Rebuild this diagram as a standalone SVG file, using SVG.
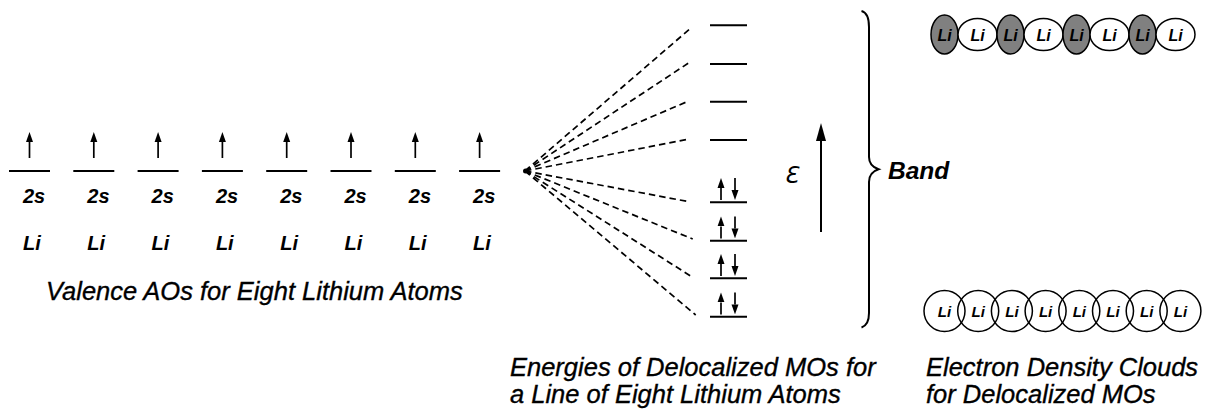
<svg xmlns="http://www.w3.org/2000/svg" width="1210" height="411" viewBox="0 0 1210 411">
<defs>
<style>
.lvl{stroke:#000;stroke-width:2;fill:none}
.spin{stroke:#000;stroke-width:1.7;fill:none}
.dash{stroke:#000;stroke-width:1.7;fill:none;stroke-dasharray:6.5 4}
.lbl{font-family:"Liberation Sans",Arial,sans-serif;font-style:italic;font-weight:bold;fill:#000}
.cap{font-family:"Liberation Sans",Arial,sans-serif;font-style:italic;font-size:25.5px;fill:#000;stroke:#000;stroke-width:0.35}
.li{font-family:"Liberation Sans",Arial,sans-serif;font-style:italic;font-weight:bold;fill:#000;text-anchor:middle}
.lobe{stroke:#000;stroke-width:1.5;fill:#fff}
.lobeG{stroke:#000;stroke-width:1.5;fill:#808080}
.cloud{stroke:#000;stroke-width:1.5;fill:none}
</style>
<marker id="hs" markerUnits="userSpaceOnUse" markerWidth="10" markerHeight="8" refX="0" refY="4" orient="auto">
<path d="M0,0.5 L10,4 L0,7.5 Z" fill="#000"/>
</marker>
<marker id="hl" markerUnits="userSpaceOnUse" markerWidth="18" markerHeight="10" refX="0" refY="5" orient="auto">
<path d="M0,0 L18,5 L0,10 Z" fill="#000"/>
</marker>
</defs>

<g id="ao-1"><line class="lvl" x1="9" y1="171" x2="50" y2="171"/><line class="spin" x1="29.5" y1="158" x2="29.5" y2="142" marker-end="url(#hs)"/><text class="lbl" x="23" y="203" font-size="20">2s</text><text class="lbl" x="23" y="250" font-size="20">Li</text></g>
<g id="ao-2"><line class="lvl" x1="73.3" y1="171" x2="114.3" y2="171"/><line class="spin" x1="93.8" y1="158" x2="93.8" y2="142" marker-end="url(#hs)"/><text class="lbl" x="87.3" y="203" font-size="20">2s</text><text class="lbl" x="87.3" y="250" font-size="20">Li</text></g>
<g id="ao-3"><line class="lvl" x1="137.6" y1="171" x2="178.6" y2="171"/><line class="spin" x1="158.1" y1="158" x2="158.1" y2="142" marker-end="url(#hs)"/><text class="lbl" x="151.6" y="203" font-size="20">2s</text><text class="lbl" x="151.6" y="250" font-size="20">Li</text></g>
<g id="ao-4"><line class="lvl" x1="201.9" y1="171" x2="242.9" y2="171"/><line class="spin" x1="222.4" y1="158" x2="222.4" y2="142" marker-end="url(#hs)"/><text class="lbl" x="215.9" y="203" font-size="20">2s</text><text class="lbl" x="215.9" y="250" font-size="20">Li</text></g>
<g id="ao-5"><line class="lvl" x1="266.2" y1="171" x2="307.2" y2="171"/><line class="spin" x1="286.7" y1="158" x2="286.7" y2="142" marker-end="url(#hs)"/><text class="lbl" x="280.2" y="203" font-size="20">2s</text><text class="lbl" x="280.2" y="250" font-size="20">Li</text></g>
<g id="ao-6"><line class="lvl" x1="330.5" y1="171" x2="371.5" y2="171"/><line class="spin" x1="351" y1="158" x2="351" y2="142" marker-end="url(#hs)"/><text class="lbl" x="344.5" y="203" font-size="20">2s</text><text class="lbl" x="344.5" y="250" font-size="20">Li</text></g>
<g id="ao-7"><line class="lvl" x1="394.8" y1="171" x2="435.8" y2="171"/><line class="spin" x1="415.3" y1="158" x2="415.3" y2="142" marker-end="url(#hs)"/><text class="lbl" x="408.8" y="203" font-size="20">2s</text><text class="lbl" x="408.8" y="250" font-size="20">Li</text></g>
<g id="ao-8"><line class="lvl" x1="459.1" y1="171" x2="500.1" y2="171"/><line class="spin" x1="479.6" y1="158" x2="479.6" y2="142" marker-end="url(#hs)"/><text class="lbl" x="473.1" y="203" font-size="20">2s</text><text class="lbl" x="473.1" y="250" font-size="20">Li</text></g>

<g id="caption-ao"><text class="cap" x="46" y="300">Valence AOs for Eight Lithium Atoms</text></g>

<g id="connectors">
<line class="dash" x1="525" y1="171" x2="691.7" y2="27.3"/>
<line class="dash" x1="525" y1="171" x2="689" y2="62.7"/>
<line class="dash" x1="525" y1="171" x2="687" y2="101.7"/>
<line class="dash" x1="525" y1="171" x2="688" y2="139.3"/>
<line class="dash" x1="525" y1="171" x2="689" y2="201.7"/>
<line class="dash" x1="525" y1="171" x2="692.7" y2="239"/>
<line class="dash" x1="525" y1="171" x2="692.7" y2="277.3"/>
<line class="dash" x1="525" y1="171" x2="695.7" y2="315"/>
<circle cx="525.5" cy="171" r="2.5" fill="#000"/>
</g>

<g id="mo-8"><line class="lvl" x1="710" y1="25.3" x2="747" y2="25.3"/></g>
<g id="mo-7"><line class="lvl" x1="710" y1="64" x2="747" y2="64"/></g>
<g id="mo-6"><line class="lvl" x1="710" y1="101.7" x2="747" y2="101.7"/></g>
<g id="mo-5"><line class="lvl" x1="710" y1="140" x2="747" y2="140"/></g>
<g id="mo-4"><line class="lvl" x1="710" y1="202.3" x2="747" y2="202.3"/><line class="spin" x1="721" y1="200" x2="721" y2="188" marker-end="url(#hs)"/><line class="spin" x1="735" y1="178" x2="735" y2="190" marker-end="url(#hs)"/></g>
<g id="mo-3"><line class="lvl" x1="710" y1="240.7" x2="747" y2="240.7"/><line class="spin" x1="721" y1="238.4" x2="721" y2="226.4" marker-end="url(#hs)"/><line class="spin" x1="735" y1="216.4" x2="735" y2="228.4" marker-end="url(#hs)"/></g>
<g id="mo-2"><line class="lvl" x1="710" y1="278.3" x2="747" y2="278.3"/><line class="spin" x1="721" y1="276" x2="721" y2="264" marker-end="url(#hs)"/><line class="spin" x1="735" y1="254" x2="735" y2="266" marker-end="url(#hs)"/></g>
<g id="mo-1"><line class="lvl" x1="710" y1="316.7" x2="747" y2="316.7"/><line class="spin" x1="721" y1="314.4" x2="721" y2="302.4" marker-end="url(#hs)"/><line class="spin" x1="735" y1="292.4" x2="735" y2="304.4" marker-end="url(#hs)"/></g>

<g id="energy-axis">
<line x1="821" y1="232" x2="821" y2="141" stroke="#000" stroke-width="2" marker-end="url(#hl)"/>
<text x="784" y="183" font-family="'DejaVu Sans','Liberation Sans',sans-serif" font-style="italic" font-size="23" fill="#000">Ɛ</text>
</g>

<g id="band-brace">
<path d="M861.5,11 Q869,13 869,27 L869,157 Q869,166 878.5,169.3 Q869,172.5 869,182 L869,313 Q869,325 861.5,327.5" fill="none" stroke="#000" stroke-width="2"/>
<text class="lbl" x="888" y="179" font-size="24.5">Band</text>
</g>

<g id="antibonding-mo">
<ellipse class="lobeG" cx="944.5" cy="34.5" rx="13.5" ry="19.5"/>
<ellipse class="lobe" cx="977.5" cy="34.5" rx="19.5" ry="16"/>
<ellipse class="lobeG" cx="1010.5" cy="34.5" rx="13.5" ry="19.5"/>
<ellipse class="lobe" cx="1043.5" cy="34.5" rx="19.5" ry="16"/>
<ellipse class="lobeG" cx="1076.5" cy="34.5" rx="13.5" ry="19.5"/>
<ellipse class="lobe" cx="1109.5" cy="34.5" rx="19.5" ry="16"/>
<ellipse class="lobeG" cx="1142.5" cy="34.5" rx="13.5" ry="19.5"/>
<ellipse class="lobe" cx="1175.5" cy="34.5" rx="19.5" ry="16"/>
<text class="li" x="944.5" y="41" font-size="16">Li</text>
<text class="li" x="977.5" y="41" font-size="16">Li</text>
<text class="li" x="1010.5" y="41" font-size="16">Li</text>
<text class="li" x="1043.5" y="41" font-size="16">Li</text>
<text class="li" x="1076.5" y="41" font-size="16">Li</text>
<text class="li" x="1109.5" y="41" font-size="16">Li</text>
<text class="li" x="1142.5" y="41" font-size="16">Li</text>
<text class="li" x="1175.5" y="41" font-size="16">Li</text>
</g>

<g id="bonding-mo">
<circle class="cloud" cx="944.5" cy="311" r="20.5"/>
<circle class="cloud" cx="978.2" cy="311" r="20.5"/>
<circle class="cloud" cx="1011.9" cy="311" r="20.5"/>
<circle class="cloud" cx="1045.6" cy="311" r="20.5"/>
<circle class="cloud" cx="1079.3" cy="311" r="20.5"/>
<circle class="cloud" cx="1113" cy="311" r="20.5"/>
<circle class="cloud" cx="1146.7" cy="311" r="20.5"/>
<circle class="cloud" cx="1180.4" cy="311" r="20.5"/>
<text class="li" x="944.5" y="317" font-size="15">Li</text>
<text class="li" x="978.2" y="317" font-size="15">Li</text>
<text class="li" x="1011.9" y="317" font-size="15">Li</text>
<text class="li" x="1045.6" y="317" font-size="15">Li</text>
<text class="li" x="1079.3" y="317" font-size="15">Li</text>
<text class="li" x="1113" y="317" font-size="15">Li</text>
<text class="li" x="1146.7" y="317" font-size="15">Li</text>
<text class="li" x="1180.4" y="317" font-size="15">Li</text>
</g>

<g id="caption-mo"><text class="cap" x="510" y="376">Energies of Delocalized MOs for</text><text class="cap" x="510" y="403">a Line of Eight Lithium Atoms</text></g>
<g id="caption-clouds"><text class="cap" x="926" y="376">Electron Density Clouds</text><text class="cap" x="926" y="403">for Delocalized MOs</text></g>
</svg>
